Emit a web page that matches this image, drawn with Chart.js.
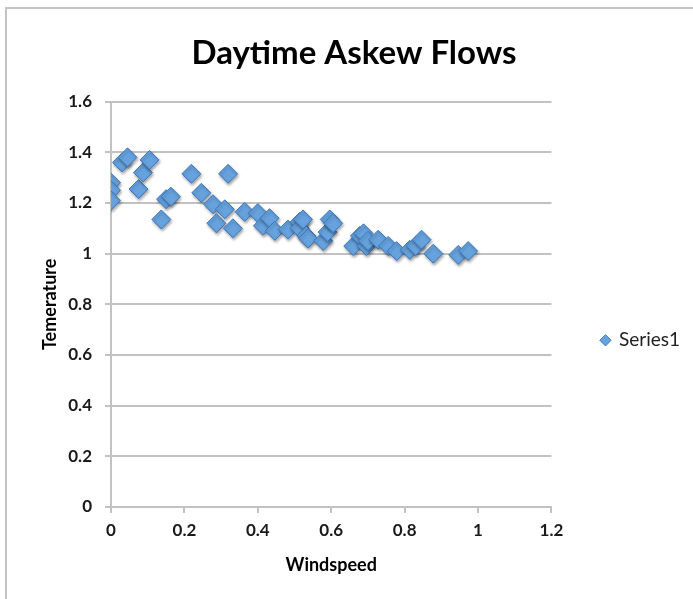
<!DOCTYPE html>
<html>
<head>
<meta charset="utf-8">
<script src="https://cdn.jsdelivr.net/npm/chart.js@4.4.1/dist/chart.umd.min.js"></script>
<style>
html,body{margin:0;padding:0;background:#fff;overflow:hidden}
#frame{position:absolute;left:5px;top:7px;width:720px;height:620px;border-left:2px solid #c4c4c4;border-top:2px solid #c4c4c4}
#wrap{position:absolute;left:0;top:0;width:693px;height:599px}
</style>
</head>
<body>
<div id="frame"></div>
<div id="wrap"><canvas id="chart" width="693" height="599"></canvas></div>
<script>
// data
const windspeed = [0, 0, 0, 0.03, 0.045, 0.075, 0.087, 0.105, 0.137, 0.15, 0.163,
  0.219, 0.246, 0.278, 0.287, 0.31, 0.319, 0.332, 0.364, 0.40, 0.414, 0.432, 0.446,
  0.482, 0.514, 0.514, 0.523, 0.532, 0.537, 0.578, 0.59, 0.596, 0.605,
  0.66, 0.678, 0.688, 0.696, 0.70, 0.728, 0.755, 0.778, 0.814, 0.83, 0.846, 0.878, 0.946, 0.973];
const temperature = [1.28, 1.25, 1.21, 1.36, 1.38, 1.255, 1.32, 1.37, 1.135, 1.215, 1.225,
  1.315, 1.24, 1.195, 1.12, 1.175, 1.315, 1.10, 1.165, 1.16, 1.11, 1.14, 1.09,
  1.095, 1.125, 1.10, 1.135, 1.07, 1.06, 1.05, 1.085, 1.135, 1.12,
  1.03, 1.07, 1.08, 1.03, 1.05, 1.055, 1.03, 1.01, 1.015, 1.03, 1.055, 1.0, 0.995, 1.01];
const xTicks = [0, 0.2, 0.4, 0.6, 0.8, 1, 1.2];
const yTicks = [0, 0.2, 0.4, 0.6, 0.8, 1, 1.2, 1.4, 1.6];
const seriesName = 'Series1';

const FONT = 'Lato';
const legendFont = {family: FONT, size: 19};
const legendPad = 30, legendBox = 8;
const padL = 38;
const gridGray = '#c2c2c2';

const shadowPlugin = {
  id: 'markerShadow',
  beforeDatasetsDraw(chart){
    const c = chart.ctx;
    c.save();
    c.shadowColor = 'rgba(0,0,0,0.35)';
    c.shadowBlur = 3;
    c.shadowOffsetX = 1;
    c.shadowOffsetY = 2;
  },
  afterDatasetsDraw(chart){ chart.ctx.restore(); }
};

// Excel puts the legend a bit right of / below where chart.js would
const legendShift = {
  id: 'legendShift',
  afterLayout(chart){
    const lg = chart.legend;
    lg.left += 20; lg.right += 20;
    lg.top += 36; lg.bottom += 36;
  }
};

function draw(){
  // right padding so the plot ends where the legend begins (x = 551)
  const mctx = document.createElement('canvas').getContext('2d');
  mctx.font = legendFont.size + 'px ' + FONT;
  const legendW = legendPad + legendBox + legendFont.size / 2 + mctx.measureText(seriesName).width + 10;
  const padR = Math.max(0, Math.round(693 - 551 - legendW));

  new Chart(document.getElementById('chart'), {
    type: 'scatter',
    data: {
      datasets: [{
        label: seriesName,
        data: windspeed.map((x, i) => ({x: x, y: temperature[i]})),
        pointStyle: 'rectRot',
        pointRadius: 9.5,
        pointHoverRadius: 9.5,
        backgroundColor: '#66a2de',
        borderColor: '#3f78b9',
        borderWidth: 1
      }]
    },
    plugins: [shadowPlugin, legendShift],
    options: {
      responsive: false,
      animation: false,
      events: [],
      layout: {padding: {left: padL, right: padR, top: 0, bottom: 8}},
      plugins: {
        title: {
          display: true,
          text: 'Daytime Askew Flows',
          color: '#000',
          font: {family: FONT, size: 33, weight: 'bold'},
          padding: {top: 34, bottom: 28}
        },
        legend: {
          position: 'right',
          fullSize: false,
          labels: {
            usePointStyle: true,
            boxWidth: legendBox,
            boxHeight: legendBox,
            padding: legendPad,
            color: '#222',
            font: legendFont
          }
        },
        tooltip: {enabled: false}
      },
      scales: {
        x: {
          type: 'linear',
          min: 0, max: 1.2,
          afterBuildTicks: s => { s.ticks = xTicks.map(v => ({value: v})); },
          afterFit: s => { s.height = 599 - 8 - 507; },
          ticks: {
            callback: v => String(Math.round(v * 10) / 10),
            color: '#1a1a1a',
            font: {family: FONT, size: 17, weight: 'bold'},
            padding: 7,
            maxRotation: 0
          },
          grid: {drawOnChartArea: false, drawTicks: true, tickLength: 6, color: gridGray, lineWidth: 2},
          border: {display: true, color: gridGray, width: 2},
          title: {
            display: true, text: 'Windspeed', color: '#000',
            font: {family: FONT, size: 18, weight: 'bold'},
            padding: {top: 0, bottom: 15}
          }
        },
        y: {
          type: 'linear',
          min: 0, max: 1.6,
          afterBuildTicks: s => { s.ticks = yTicks.map(v => ({value: v})); },
          afterFit: s => { s.width = 111 - padL; },
          ticks: {
            callback: v => String(Math.round(v * 10) / 10),
            color: '#1a1a1a',
            font: {family: FONT, size: 17, weight: 'bold'},
            padding: 13
          },
          grid: {drawTicks: true, tickLength: 6, color: gridGray, lineWidth: 2},
          border: {display: true, color: gridGray, width: 2},
          title: {
            display: true, text: 'Temerature', color: '#000',
            font: {family: FONT, size: 18, weight: 'bold'},
            padding: {top: 1, bottom: 0}
          }
        }
      }
    }
  });
}

Promise.all([
  document.fonts.load('19px Lato'),
  document.fonts.load('bold 18px Lato')
]).then(draw, draw);
</script>
</body>
</html>
